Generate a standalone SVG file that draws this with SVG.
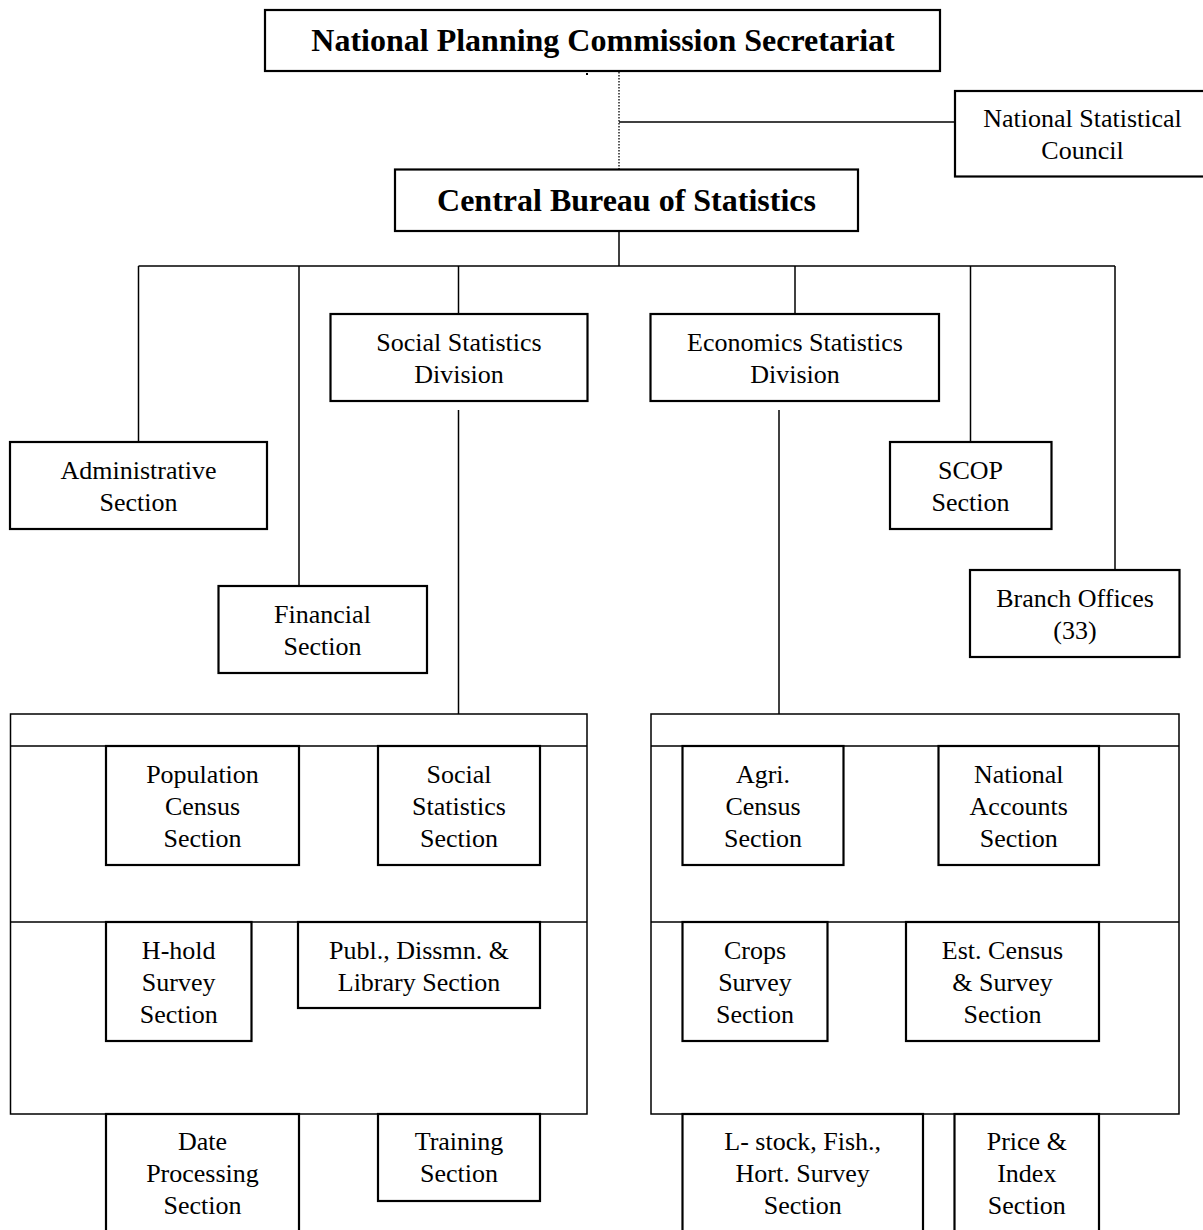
<svg xmlns="http://www.w3.org/2000/svg" width="1203" height="1230" viewBox="0 0 1203 1230">
<style>
.bx{fill:#fff;stroke:#000;stroke-width:2.2}
.cn{fill:none;stroke:#000;stroke-width:1.5}
.dot{fill:none;stroke:#000;stroke-width:1.3;stroke-dasharray:1.5 1.5}
text{font-family:"Liberation Serif","Times New Roman",serif;font-size:26px;fill:#000;text-anchor:middle}
.hd{font-size:32px;font-weight:bold}
</style>
<rect width="1203" height="1230" fill="#fff"/>
<g id="connectors">
<line class="dot" x1="619" y1="72" x2="619" y2="169"/>
<line class="cn" x1="619" y1="122" x2="955" y2="122"/>
<line class="cn" x1="619" y1="231" x2="619" y2="266"/>
<line class="cn" x1="138.5" y1="266" x2="1115" y2="266"/>
<line class="cn" x1="138.5" y1="266" x2="138.5" y2="442"/>
<line class="cn" x1="299" y1="266" x2="299" y2="586"/>
<line class="cn" x1="458.5" y1="266" x2="458.5" y2="314"/>
<line class="cn" x1="795" y1="266" x2="795" y2="314"/>
<line class="cn" x1="970.5" y1="266" x2="970.5" y2="442"/>
<line class="cn" x1="1115" y1="266" x2="1115" y2="570"/>
<line class="cn" x1="458.5" y1="410" x2="458.5" y2="714"/>
<line class="cn" x1="779" y1="410" x2="779" y2="714"/>
<path class="cn" d="M10.5 714H587V1114H10.5Z M10.5 746H587 M10.5 922H587"/>
<path class="cn" d="M651 714H1179V1114H651Z M651 746H1179 M651 922H1179"/>
<rect x="586" y="73" width="2" height="2" fill="#000"/>
</g>
<g id="npcs"><rect class="bx" x="265" y="10" width="675" height="61"/><text class="hd" x="603" y="51">National Planning Commission Secretariat</text></g>
<g id="nsc"><rect class="bx" x="955" y="91" width="260" height="85.5"/><text x="1082.5" y="127">National Statistical</text><text x="1082.5" y="159">Council</text></g>
<g id="cbs"><rect class="bx" x="395" y="169.5" width="463" height="61.5"/><text class="hd" x="626.5" y="211">Central Bureau of Statistics</text></g>
<g id="ssd"><rect class="bx" x="330.5" y="314" width="257" height="87"/><text x="459" y="351">Social Statistics</text><text x="459" y="383">Division</text></g>
<g id="esd"><rect class="bx" x="650.5" y="314" width="288.5" height="87"/><text x="795" y="351">Economics Statistics</text><text x="795" y="383">Division</text></g>
<g id="admin"><rect class="bx" x="10" y="442" width="257" height="87"/><text x="138.5" y="479">Administrative</text><text x="138.5" y="511">Section</text></g>
<g id="fin"><rect class="bx" x="218.5" y="586" width="208.5" height="87"/><text x="322.5" y="623">Financial</text><text x="322.5" y="655">Section</text></g>
<g id="scop"><rect class="bx" x="890" y="442" width="161.5" height="87"/><text x="970.5" y="479">SCOP</text><text x="970.5" y="511">Section</text></g>
<g id="branch"><rect class="bx" x="970" y="570" width="209.5" height="87"/><text x="1075" y="607">Branch Offices</text><text x="1075" y="639">(33)</text></g>
<g id="pop"><rect class="bx" x="106" y="746" width="193" height="119"/><text x="202.5" y="783">Population</text><text x="202.5" y="815">Census</text><text x="202.5" y="847">Section</text></g>
<g id="sss"><rect class="bx" x="378" y="746" width="162" height="119"/><text x="459" y="783">Social</text><text x="459" y="815">Statistics</text><text x="459" y="847">Section</text></g>
<g id="hhold"><rect class="bx" x="106" y="922" width="145.5" height="119"/><text x="178.7" y="959">H-hold</text><text x="178.7" y="991">Survey</text><text x="178.7" y="1023">Section</text></g>
<g id="publ"><rect class="bx" x="298" y="922" width="242" height="86"/><text x="419" y="959">Publ., Dissmn. &amp;</text><text x="419" y="991">Library Section</text></g>
<g id="dp"><rect class="bx" x="106" y="1114" width="193" height="130"/><text x="202.5" y="1150">Date</text><text x="202.5" y="1182">Processing</text><text x="202.5" y="1214">Section</text></g>
<g id="train"><rect class="bx" x="378" y="1114" width="162" height="87"/><text x="459" y="1150">Training</text><text x="459" y="1182">Section</text></g>
<g id="agri"><rect class="bx" x="682.5" y="746" width="161" height="119"/><text x="763" y="783">Agri.</text><text x="763" y="815">Census</text><text x="763" y="847">Section</text></g>
<g id="nac"><rect class="bx" x="938.5" y="746" width="160.5" height="119"/><text x="1018.7" y="783">National</text><text x="1018.7" y="815">Accounts</text><text x="1018.7" y="847">Section</text></g>
<g id="crops"><rect class="bx" x="682.5" y="922" width="145" height="119"/><text x="755" y="959">Crops</text><text x="755" y="991">Survey</text><text x="755" y="1023">Section</text></g>
<g id="est"><rect class="bx" x="906" y="922" width="193" height="119"/><text x="1002.5" y="959">Est. Census</text><text x="1002.5" y="991">&amp; Survey</text><text x="1002.5" y="1023">Section</text></g>
<g id="lstock"><rect class="bx" x="682.5" y="1114" width="240.5" height="130"/><text x="802.7" y="1150">L- stock, Fish.,</text><text x="802.7" y="1182">Hort. Survey</text><text x="802.7" y="1214">Section</text></g>
<g id="price"><rect class="bx" x="954.5" y="1114" width="144.5" height="130"/><text x="1026.8" y="1150">Price &amp;</text><text x="1026.8" y="1182">Index</text><text x="1026.8" y="1214">Section</text></g>
</svg>
